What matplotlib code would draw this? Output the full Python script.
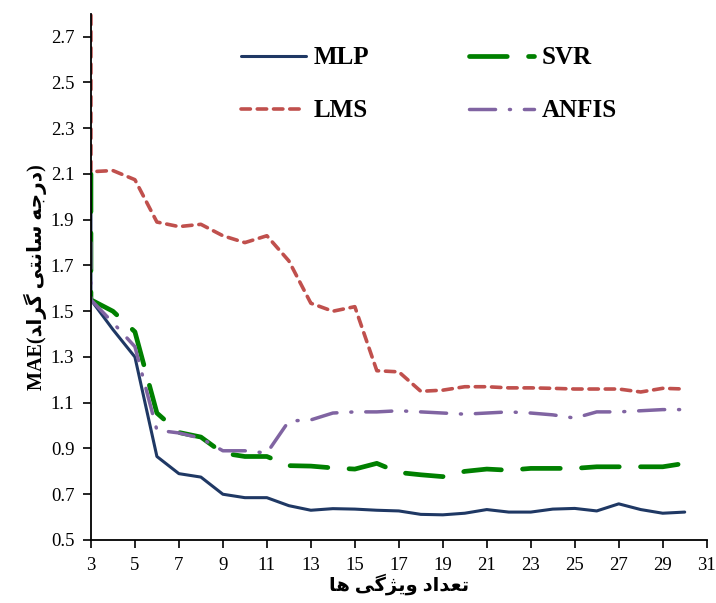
import numpy as np
import matplotlib
matplotlib.use("Agg")
import matplotlib.pyplot as plt

# number of features (first point lies left of the axis, drawn on the edge as in Excel)
features = np.arange(2, 31)

mlp = [2.05, 1.55, 1.42, 1.30, 0.865, 0.79, 0.775, 0.70, 0.685, 0.685, 0.65,
       0.63, 0.637, 0.635, 0.63, 0.627, 0.612, 0.61, 0.617, 0.633, 0.622,
       0.622, 0.635, 0.638, 0.627, 0.658, 0.633, 0.617, 0.622]
svr = [2.10, 1.55, 1.50, 1.41, 1.055, 0.97, 0.95, 0.88, 0.865, 0.865, 0.825,
       0.823, 0.815, 0.81, 0.835, 0.795, 0.785, 0.777, 0.80, 0.81, 0.805,
       0.813, 0.813, 0.813, 0.82, 0.82, 0.82, 0.82, 0.835]
lms = [2.95, 2.11, 2.115, 2.075, 1.89, 1.87, 1.88, 1.83, 1.80, 1.83, 1.72,
       1.535, 1.50, 1.52, 1.24, 1.235, 1.15, 1.155, 1.17, 1.17, 1.165,
       1.165, 1.163, 1.16, 1.16, 1.16, 1.147, 1.163, 1.16]
anfis = [1.80, 1.55, 1.45, 1.345, 0.98, 0.968, 0.945, 0.89, 0.89, 0.88, 1.02,
         1.025, 1.055, 1.06, 1.06, 1.065, 1.06, 1.055, 1.05, 1.055, 1.06,
         1.055, 1.047, 1.033, 1.06, 1.06, 1.065, 1.07, 1.07]

x_ticks = np.arange(3, 32, 2)
y_ticks = np.arange(0.5, 2.71, 0.2)

# Persian labels written in presentation forms, visual order (no shaping engine in matplotlib)
x_label = "\uFE8E\uFEEB \uFBFD\uFB94\uFB8B\uFBFE\uFEED \uFEA9\uFE8D\uFEAA\uFECC\uFE97"
y_label = ("MAE(" + "\uFEAA\uFE8D\uFEAE\uFB94" + " " + "\uFBFD\uFE98\uFEE7\uFE8E\uFEB3"
           + " " + "\uFEEA\uFE9F\uFEAD\uFEA9" + ")")

plt.rcParams["font.family"] = ["Liberation Serif", "DejaVu Sans"]

fig = plt.figure(figsize=(7.16, 6.03), dpi=100)
ax = fig.add_axes([0.127, 0.1045, 0.86, 0.8725])

xs = np.maximum(features, 3)
l_mlp, = ax.plot(xs, mlp, color="#1F3864", lw=2.2, label="MLP",
                 solid_capstyle="round")
l_svr, = ax.plot(xs, svr, color="#008000", lw=3.4, linestyle=(0, (8, 4.5)),
                 dash_capstyle="round", label="SVR")
l_lms, = ax.plot(xs, lms, color="#C0504D", lw=2.6, linestyle=(0, (2.6, 1.9)),
                 dash_capstyle="round", label="LMS")
l_anfis, = ax.plot(xs, anfis, color="#8064A2", lw=2.5, linestyle=(0, (7.5, 4, 0.3, 4)),
                   dash_capstyle="round", label="ANFIS")

ax.set_xlim(3, 31)
ax.set_ylim(0.5, 2.8)
ax.set_xticks(x_ticks)
ax.set_yticks(y_ticks)
ax.set_yticklabels([f"{v:.1f}" for v in y_ticks])
ax.tick_params(direction="out", length=6, width=1.2, labelsize=13.5, pad=6)
for s in ["top", "right"]:
    ax.spines[s].set_visible(False)
for s in ["left", "bottom"]:
    ax.spines[s].set_linewidth(1.3)

ax.set_xlabel(x_label, fontsize=14, fontweight="bold", labelpad=0)
ax.set_ylabel(y_label, fontsize=14.5, fontweight="bold", labelpad=3)

# column-wise fill: row 1 = MLP, SVR ; row 2 = LMS, ANFIS
ax.legend([l_mlp, l_lms, l_svr, l_anfis], ["MLP", "LMS", "SVR", "ANFIS"],
          loc="upper left", bbox_to_anchor=(0.224, 0.962), ncol=2,
          frameon=False, handlelength=2.6, columnspacing=4.0,
          labelspacing=1.2, borderpad=0, handletextpad=0.3,
          prop={"family": "Liberation Serif", "weight": "bold", "size": 18})

fig.savefig("out.png", dpi=100)
